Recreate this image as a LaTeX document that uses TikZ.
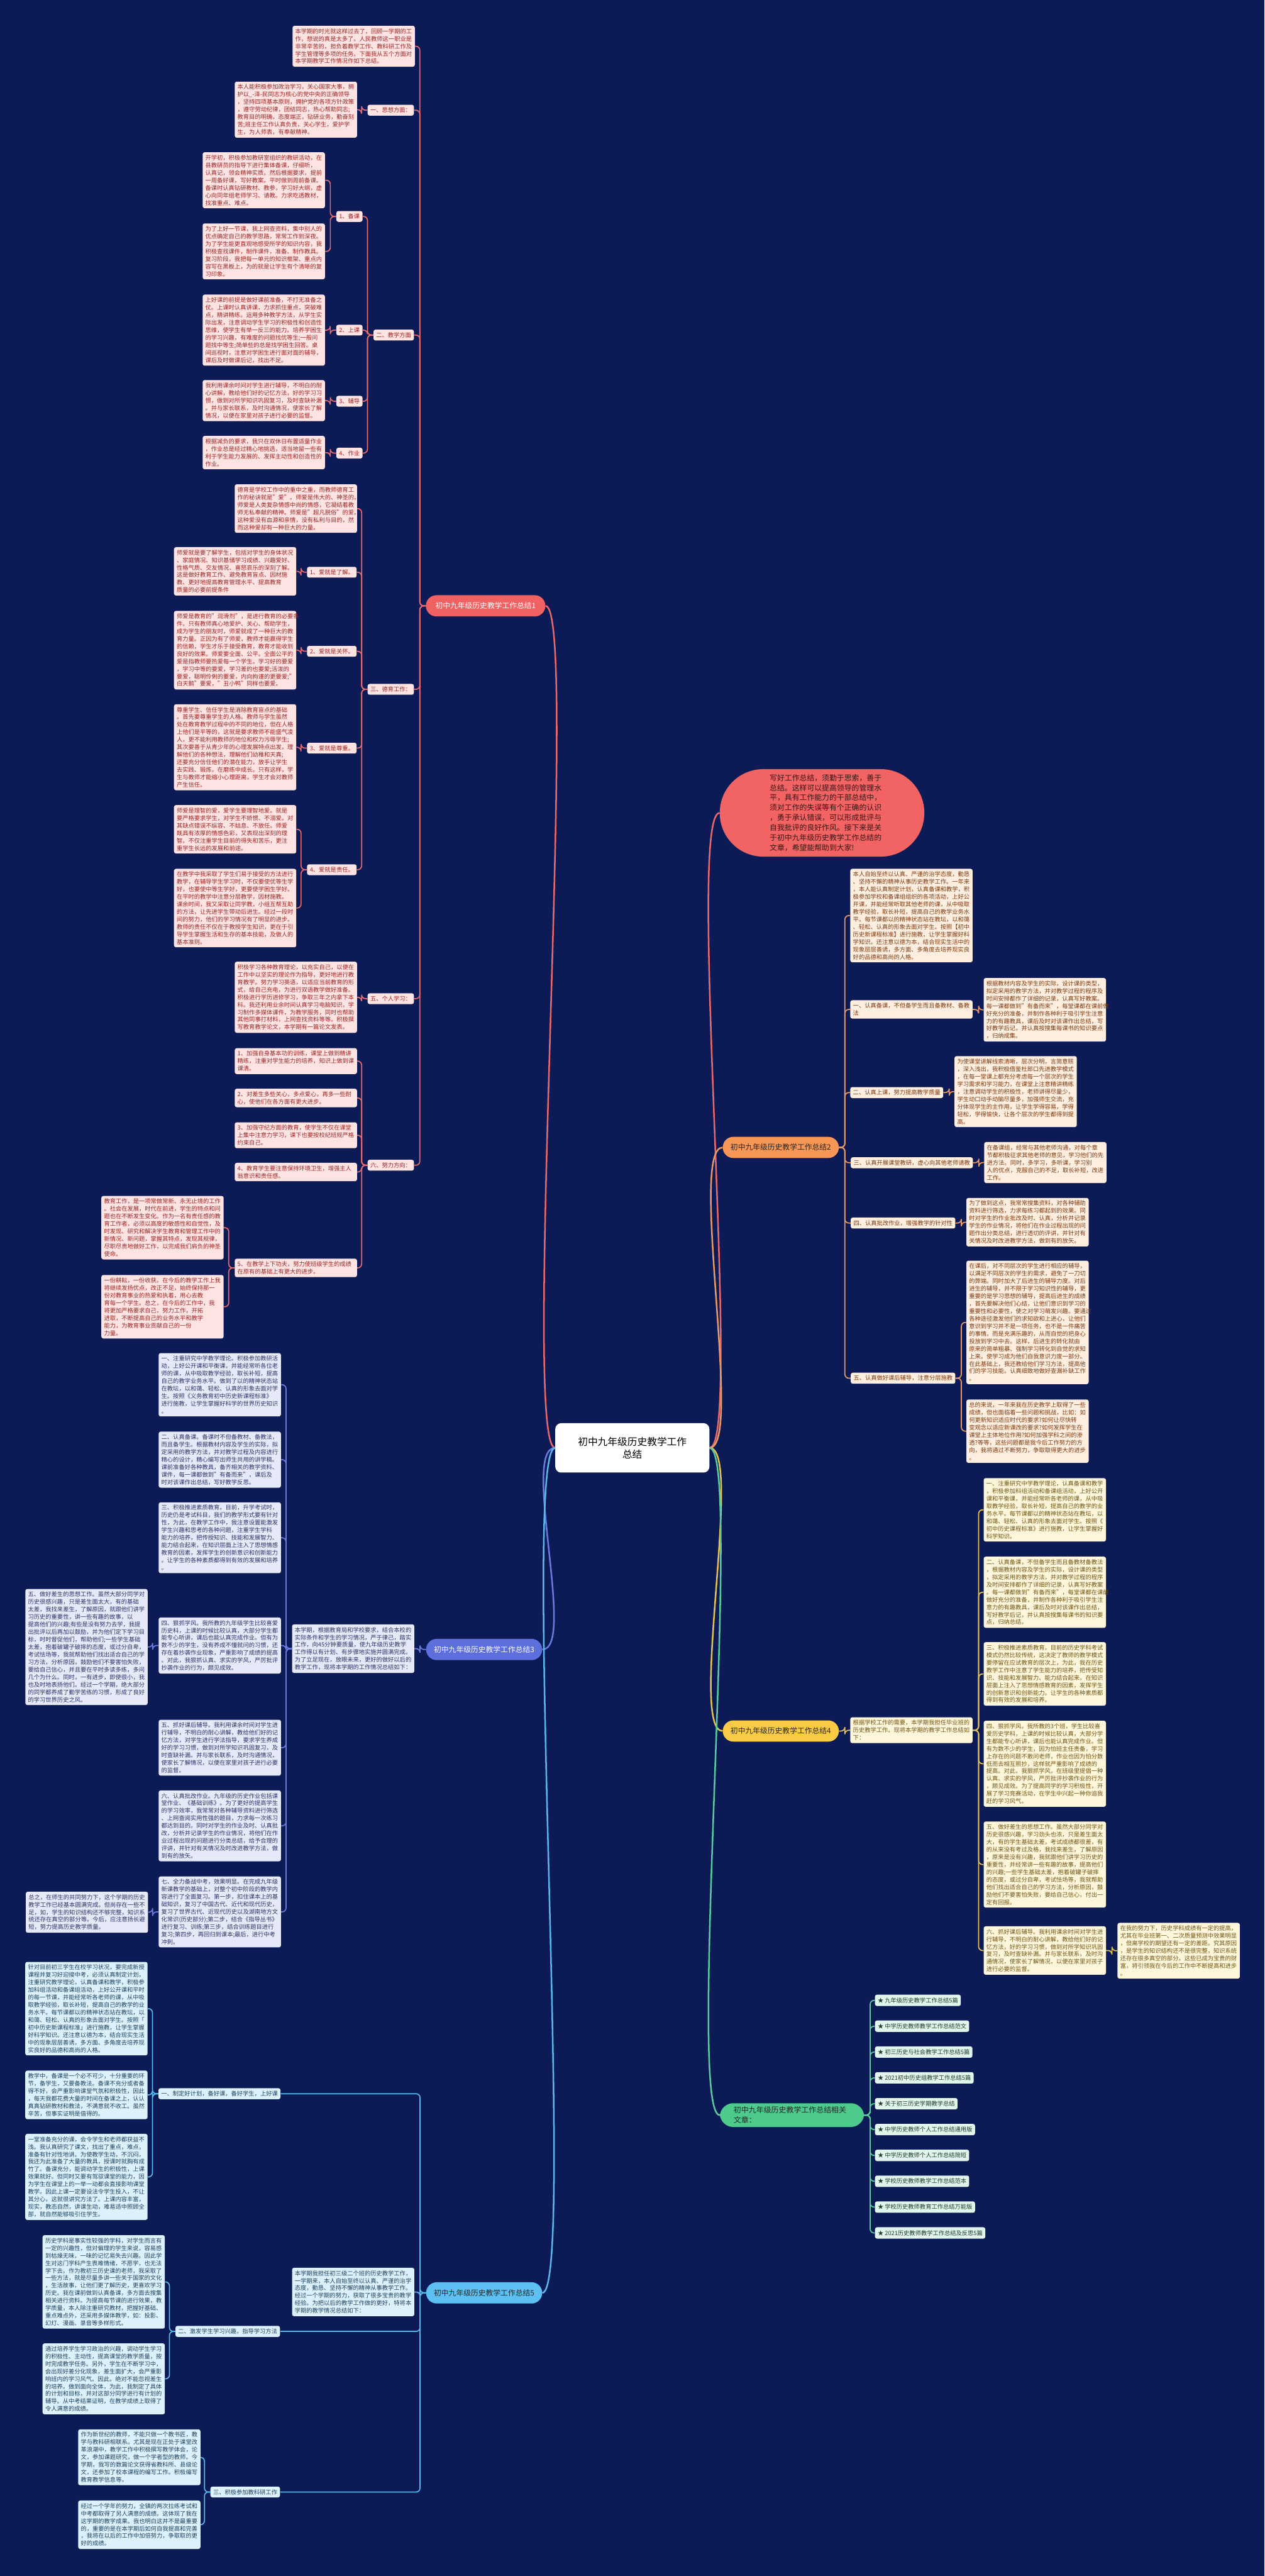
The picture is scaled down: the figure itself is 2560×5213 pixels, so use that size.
\documentclass[tikz,border=0pt]{standalone}
\usepackage{fontspec}
\setmainfont{Noto Sans CJK SC}
\definecolor{bg}{HTML}{0C1B55}
\definecolor{p1}{HTML}{F06262}\definecolor{l1}{HTML}{E8686C}\definecolor{f1}{HTML}{FDE4E2}\definecolor{t1}{HTML}{9A2626}
\definecolor{p2}{HTML}{F79655}\definecolor{l2}{HTML}{E79A66}\definecolor{f2}{HTML}{FEEEDF}\definecolor{t2}{HTML}{7B3A10}
\definecolor{p3}{HTML}{5C6FDC}\definecolor{l3}{HTML}{6A7BE0}\definecolor{f3}{HTML}{E6E9F8}\definecolor{t3}{HTML}{2E3466}
\definecolor{p4}{HTML}{F9CB45}\definecolor{l4}{HTML}{E3C252}\definecolor{f4}{HTML}{FEF6DA}\definecolor{t4}{HTML}{6E5514}
\definecolor{p5}{HTML}{4CCB8D}\definecolor{l5}{HTML}{5ACB9D}\definecolor{f5}{HTML}{E2F5EC}\definecolor{t5}{HTML}{1D3A2C}
\definecolor{p6}{HTML}{5CC1F2}\definecolor{l6}{HTML}{5AB7EA}\definecolor{f6}{HTML}{DDF1FC}\definecolor{t6}{HTML}{1E425C}
\definecolor{sumfill}{HTML}{F26464}\definecolor{sumtext}{HTML}{3A1515}
\newcommand\bx{\fontsize{11.8pt}{15.2pt}\selectfont}
\newcommand\pf{\fontsize{15pt}{20pt}\selectfont}
\newcommand\rf{\fontsize{20pt}{26pt}\selectfont}
\newcommand\cL[3]{\draw[#1] (#2.west) -- ++(-12,0) |- (#3.east);}
\newcommand\cR[3]{\draw[#1] (#2.east) -- ++(12,0) |- (#3.west);}
\tikzset{
  tbox/.style={rounded corners=4pt, inner xsep=5.5pt, inner ysep=5.5pt, align=left, font=\bx, text width=236.5pt, anchor=north west},
  lbl/.style={rounded corners=4pt, inner xsep=5.5pt, inner ysep=5.5pt, font=\bx},
  pill/.style={rounded corners=21.5pt, minimum height=43pt, inner xsep=14pt, font=\pf, align=center},
  c1/.style={fill=f1,text=t1}, c2/.style={fill=f2,text=t2}, c3/.style={fill=f3,text=t3},
  c4/.style={fill=f4,text=t4}, c5/.style={fill=f5,text=t5}, c6/.style={fill=f6,text=t6},
  k1/.style={draw=l1,line width=2.2pt,rounded corners=8pt}, k2/.style={draw=l2,line width=2.2pt,rounded corners=8pt},
  k3/.style={draw=l3,line width=2.2pt,rounded corners=8pt}, k4/.style={draw=l4,line width=2.2pt,rounded corners=8pt},
  k5/.style={draw=l5,line width=2.2pt,rounded corners=8pt}, k6/.style={draw=l6,line width=2.2pt,rounded corners=8pt},
  trunk/.style={line width=3.2pt},
}
\begin{document}
\begin{tikzpicture}[x=1pt,y=-1pt]
\fill[bg] (0,0) rectangle (2560,5213);
\path[use as bounding box] (0,0) rectangle (2560,5213);

% ---------- root ----------
\node[fill=white,text=black,rounded corners=12pt,minimum width=312pt,minimum height=100pt,font=\rf,align=center] (root) at (1280,2930) {初中九年级历史教学工作\\总结};

% ---------- summary ----------
\node[fill=sumfill,text=sumtext,rounded corners=88pt,minimum width=414pt,minimum height=177pt,text width=212pt,align=left,font=\fontsize{15.1pt}{20.3pt}\selectfont] (sum) at (1664,1645) {写好工作总结，须勤于思索，善于\\总结。这样可以提高领导的管理水\\平，具有工作能力的干部总结中，\\须对工作的失误等有个正确的认识\\，勇于承认错误，可以形成批评与\\自我批评的良好作风。接下来是关\\于初中九年级历史教学工作总结的\\文章，希望能帮助到大家!};

% ---------- branch 1 ----------
\node[pill,fill=p1,text=white,minimum width=242pt] (b1) at (983,1226) {初中九年级历史教学工作总结1};
\node[tbox,c1] (b1i) at (592,52) {本学期的时光就这样过去了，回顾一学期的工\\作，想说的真是太多了。人民教师这一职业是\\非常辛苦的，担负着教学工作、教科研工作及\\学生管理等多项的任务。下面我从五个方面对\\本学期教学工作情况作如下总结。};
\node[lbl,c1,anchor=east] (b1a) at (838,223) {一、思想方面：};
\node[tbox,c1] (b1a1) at (475,165) {本人能积极参加政治学习，关心国家大事，拥\\护以\_-泽-民同志为核心的党中央的正确领导\\，坚持四项基本原则，拥护党的各项方针政策\\，遵守劳动纪律，团结同志，热心帮助同志;\\教育目的明确，态度端正，钻研业务，勤奋刻\\苦;班主任工作认真负责，关心学生，爱护学\\生，为人师表，有奉献精神。};
\node[lbl,c1,anchor=east] (b1b) at (838,678) {二、教学方面};
\node[lbl,c1,anchor=east] (b1b1) at (734,438) {1、备课};
\node[tbox,c1] (b1b1a) at (410,308) {开学初，积极参加教研室组织的教研活动，在\\县教研员的指导下进行集体备课，仔细听，\\认真记，领会精神实质。然后根据要求，提前\\一周备好课，写好教案。平时做到周前备课。\\备课时认真钻研教材、教参，学习好大纲，虚\\心向同年组老师学习、请教。力求吃透教材，\\找准重点、难点。};
\node[tbox,c1] (b1b1b) at (410,452) {为了上好一节课，我上网查资料，集中别人的\\优点确定自己的教学思路，常常工作到深夜。\\为了学生能更直观地感受所学的知识内容，我\\积极查找课件，制作课件，准备、制作教具。\\复习阶段，我把每一单元的知识框架、重点内\\容写在黑板上，为的就是让学生有个清晰的复\\习印象。};
\node[lbl,c1,anchor=east] (b1b2) at (734,668) {2、上课};
\node[tbox,c1] (b1b2a) at (410,596) {上好课的前提是做好课前准备，不打无准备之\\仗。上课时认真讲课，力求抓住重点，突破难\\点，精讲精练。运用多种教学方法，从学生实\\际出发，注意调动学生学习的积极性和创造性\\思维，使学生有举一反三的能力。培养学困生\\的学习兴趣，有难度的问题找优等生;一般问\\题找中等生;简单些的总是找学困生回答。桌\\间巡视时，注意对学困生进行面对面的辅导，\\课后及时做课后记，找出不足。};
\node[lbl,c1,anchor=east] (b1b3) at (734,812) {3、辅导};
\node[tbox,c1] (b1b3a) at (410,769) {我利用课余时间对学生进行辅导，不明白的耐\\心讲解，教给他们好的记忆方法，好的学习习\\惯，做到对所学知识巩固复习，及时查缺补漏\\。并与家长联系，及时沟通情况，使家长了解\\情况，以便在家里对孩子进行必要的监督。};
\node[lbl,c1,anchor=east] (b1b4) at (734,917) {4、作业};
\node[tbox,c1] (b1b4a) at (410,882) {根据减负的要求，我只在双休日布置适量作业\\，作业总是经过精心地挑选，适当地留一些有\\利于学生能力发展的、发挥主动性和创造性的\\作业。};
\node[lbl,c1,anchor=east] (b1c) at (838,1395) {三、德育工作：};
\node[tbox,c1] (b1c0) at (475,980) {德育是学校工作中的重中之重，而教师德育工\\作的秘诀就是"爱"。师爱是伟大的、神圣的。\\师爱是人类复杂情感中尚的情感，它凝结着教\\师无私奉献的精神。师爱是"超凡脱俗"的爱。\\这种爱没有血源和亲情，没有私利与目的，然\\而这种爱却有一种巨大的力量。};
\node[lbl,c1,anchor=east] (b1c1) at (722,1158) {1、爱就是了解。};
\node[tbox,c1] (b1c1a) at (352,1107) {师爱就是要了解学生，包括对学生的身体状况\\、家庭情况、知识基储学习成绩、兴趣爱好、\\性格气质、交友情况、喜怒哀乐的深刻了解。\\这是做好教育工作、避免教育盲点、因材施\\教、更好地提高教育管理水平、提高教育\\质量的必要前提条件};
\node[lbl,c1,anchor=east] (b1c2) at (722,1318) {2、爱就是关怀。};
\node[tbox,c1] (b1c2a) at (352,1236) {师爱是教育的"润滑剂"，是进行教育的必要条\\件。只有教师真心地爱护、关心、帮助学生，\\成为学生的朋友时，师爱就成了一种巨大的教\\育力量。正因为有了师爱，教师才能赢得学生\\的信赖，学生才乐于接受教育，教育才能收到\\良好的效果。师爱要全面、公平。全面公平的\\爱是指教师要热爱每一个学生。学习好的要爱\\，学习中等的要爱，学习差的也要爱;活泼的\\要爱，聪明伶俐的要爱，内向拘谨的更要爱;"\\白天鹅"要爱，"丑小鸭"同样也要爱。};
\node[lbl,c1,anchor=east] (b1c3) at (722,1514) {3、爱就是尊重。};
\node[tbox,c1] (b1c3a) at (352,1425) {尊重学生、信任学生是消除教育盲点的基础\\。首先要尊重学生的人格。教师与学生虽然\\处在教育教学过程中的不同的地位，但在人格\\上他们是平等的，这就是要求教师不能盛气凌\\人，更不能利用教师的地位和权力污辱学生;\\其次要善于从青少年的心理发展特点出发，理\\解他们的各种想法，理解他们幼稚和天真;\\还要充分信任他们的潜在能力，放手让学生\\去实践、锻炼，在磨练中成长。只有这样，学\\生与教师才能缩小心理距离，学生才会对教师\\产生信任。};
\node[lbl,c1,anchor=east] (b1c4) at (722,1760) {4、爱就是责任。};
\node[tbox,c1] (b1c4a) at (352,1629) {师爱是理智的爱，爱学生要理智地爱。就是\\要严格要求学生，对学生不娇惯、不溺爱。对\\其缺点错误不纵容、不姑息、不放任。师爱\\既具有浓厚的情感色彩，又表现出深刻的理\\智。不仅注重学生目前的得失和苦乐，更注\\重学生长远的发展和前途。};
\node[tbox,c1] (b1c4b) at (352,1758) {在教学中我采取了学生们易于接受的方法进行\\教学，在辅导学生学习时，不仅要使优等生学\\好，也要使中等生学好，更要使学困生学好。\\在平时的教学中注意分层教学，因材施教。\\课余时间，我又采取让同学教，小组互帮互助\\的方法，让先进学生带动后进生。经过一段时\\间的努力，他们的学习情况有了明显的进步。\\教师的责任不仅在于教授学生知识，更在于引\\导学生掌握生活和生存的基本技能，及做人的\\基本准则。};
\node[lbl,c1,anchor=east] (b1e) at (838,2021) {五、个人学习：};
\node[tbox,c1] (b1e1) at (475,1946) {积极学习各种教育理论，以充实自己，以便在\\工作中以坚实的理论作为指导，更好地进行教\\育教学。努力学习英语，以适应当前教育的形\\式，给自己充电，为进行双语教学做好准备。\\积极进行学历进修学习，争取三年之内拿下本\\科。我还利用业余时间认真学习电脑知识，学\\习制作多媒体课件，为教学服务，同时也帮助\\其他同事打材料，上网查找资料等等。积极撰\\写教育教学论文，本学期有一篇论文发表。};
\node[lbl,c1,anchor=east] (b1f) at (838,2358) {六、努力方向：};
\node[tbox,c1] (b1f1) at (475,2121) {1、加强自身基本功的训练，课堂上做到精讲\\精练，注重对学生能力的培养，知识上做到课\\课清。};
\node[tbox,c1] (b1f2) at (475,2203) {2、对差生多些关心，多点爱心，再多一些耐\\心，使他们在各方面有更大进步。};
\node[tbox,c1] (b1f3) at (475,2271) {3、加强守纪方面的教育，使学生不仅在课堂\\上集中注意力学习，课下也要按校纪班规严格\\约束自己。};
\node[tbox,c1] (b1f4) at (475,2353) {4、教育学生要注意保持环境卫生，增强主人\\翁意识和责任感。};
\node[tbox,c1] (b1f5) at (475,2547) {5、在教学上下功夫，努力使班级学生的成绩\\在原有的基础上有更大的进步。};
\node[tbox,c1] (b1f5a) at (205,2420) {教育工作，是一项常做常新、永无止境的工作\\。社会在发展，时代在前进，学生的特点和问\\题也在不断发生变化。作为一名有责任感的教\\育工作者，必须以高度的敏感性和自觉性，及\\时发现、研究和解决学生教育和管理工作中的\\新情况、新问题，掌握其特点，发现其规律，\\尽职尽责地做好工作，以完成我们肩负的神圣\\使命。};
\node[tbox,c1] (b1f5b) at (205,2580) {一份耕耘，一份收获。在今后的教学工作上我\\将继续发扬优点，改正不足，始终保持那一\\份对教育事业的热爱和执着，用心去教\\育每一个学生。总之，在今后的工作中，我\\将更加严格要求自己，努力工作，开拓\\进取，不断提高自己的业务水平和教学\\能力，为教育事业贡献自己的一份\\力量。};

\cL{k1}{b1}{b1i}\cL{k1}{b1}{b1a}\cL{k1}{b1}{b1b}\cL{k1}{b1}{b1c}\cL{k1}{b1}{b1e}\cL{k1}{b1}{b1f}
\cL{k1}{b1a}{b1a1}
\cL{k1}{b1b}{b1b1}\cL{k1}{b1b}{b1b2}\cL{k1}{b1b}{b1b3}\cL{k1}{b1b}{b1b4}
\cL{k1}{b1b1}{b1b1a}\cL{k1}{b1b1}{b1b1b}\cL{k1}{b1b2}{b1b2a}\cL{k1}{b1b3}{b1b3a}\cL{k1}{b1b4}{b1b4a}
\cL{k1}{b1c}{b1c0}\cL{k1}{b1c}{b1c1}\cL{k1}{b1c}{b1c2}\cL{k1}{b1c}{b1c3}\cL{k1}{b1c}{b1c4}
\cL{k1}{b1c1}{b1c1a}\cL{k1}{b1c2}{b1c2a}\cL{k1}{b1c3}{b1c3a}\cL{k1}{b1c4}{b1c4a}\cL{k1}{b1c4}{b1c4b}
\cL{k1}{b1e}{b1e1}
\cL{k1}{b1f}{b1f1}\cL{k1}{b1f}{b1f2}\cL{k1}{b1f}{b1f3}\cL{k1}{b1f}{b1f4}\cL{k1}{b1f}{b1f5}
\cL{k1}{b1f5}{b1f5a}\cL{k1}{b1f5}{b1f5b}

% ---------- branch 2 ----------
\node[pill,fill=p2,text=black!85,minimum width=235pt] (b2) at (1580.5,2322) {初中九年级历史教学工作总结2};
\node[tbox,c2] (b2i) at (1721,1758) {本人自始至终以认真、严谨的治学态度，勤恳\\、坚持不懈的精神从事历史教学工作。一年来\\，本人能认真制定计划，认真备课和教学，积\\极参加学校和备课组组织的各项活动，上好公\\开课，并能经常听取其他老师的课，从中吸取\\教学经验，取长补短，提高自己的教学业务水\\平。每节课都以的精神状态站在教坛，以和蔼\\、轻松、认真的形象去面对学生。按照【初中\\历史新课程标准】进行施教，让学生掌握好科\\学知识。还注意以德为本，结合现实生活中的\\现象层层善诱，多方面、多角度去培养现实良\\好的品德和高尚的人格。};
\node[tbox,c2] (b2a) at (1721,2024) {一、认真备课，不但备学生而且备教材、备教\\法};
\node[tbox,c2] (b2a1) at (1991,1979) {根据教材内容及学生的实际，设计课的类型，\\拟定采用的教学方法，并对教学过程的程序及\\时间安排都作了详细的记录，认真写好教案。\\每一课都做到"有备而来"，每堂课都在课前做\\好充分的准备，并制作各种利于吸引学生注意\\力的有趣教具，课后及时对该课作出总结，写\\好教学后记，并认真按搜集每课书的知识要点\\，归纳成集。};
\node[lbl,c2,anchor=west] (b2b) at (1721,2211) {二、认真上课，努力提高教学质量};
\node[tbox,c2] (b2b1) at (1932,2137) {为使课堂讲解线索清晰，层次分明，言简意赅\\，深入浅出，我积极借鉴杜郎口先进教学模式\\，在每一堂课上都充分考虑每一个层次的学生\\学习需求和学习能力，在课堂上注意精讲精练\\，注意调动学生的积极性，老师讲得尽量少，\\学生动口动手动脑尽量多，加强师生交流，充\\分体现学生的主作用，让学生学得容易，学得\\轻松，学得愉快，让各个层次的学生都得到提\\高。};
\node[lbl,c2,anchor=west] (b2c) at (1722,2353) {三、认真开展课堂教研，虚心向其他老师请教};
\node[tbox,c2] (b2c1) at (1992,2311) {在备课组，经常与其他老师沟通，对每个章\\节都积极征求其他老师的意见，学习他们的先\\进方法。同时，多学习，多听课，学习别\\人的优点，克服自己的不足，取长补短，改进\\工作。};
\node[lbl,c2,anchor=west] (b2d) at (1722,2475) {四、认真批改作业，增强教学的针对性};
\node[tbox,c2] (b2d1) at (1956,2424) {为了做到这点，我常常搜集资料，对各种辅助\\资料进行筛选，力求每练习都起到的效果。同\\时对学生的作业批改及时、认真，分析并记录\\学生的作业情况，将他们在作业过程出现的问\\题作出分类总结，进行透切的评讲，并针对有\\关情况及时改进教学方法，做到有的放矢。};
\node[lbl,c2,anchor=west] (b2e) at (1722,2789) {五、认真做好课后辅导，注意分层施教};
\node[tbox,c2] (b2e1) at (1956,2551) {在课后，对不同层次的学生进行相应的辅导，\\以满足不同层次的学生的需求，避免了一刀切\\的弊端。同时加大了后进生的辅导力度。对后\\进生的辅导，并不限于学习知识性的辅导，更\\重要的是学习思想的辅导，提高后进生的成绩\\，首先要解决他们心结，让他们意识到学习的\\重要性和必要性，使之对学习萌发兴趣。要通过\\各种途径激发他们的求知欲和上进心，让他们\\意识到学习并不是一项任务，也不是一件痛苦\\的事情。而是充满乐趣的，从而自觉的把身心\\投放到学习中去。这样，后进生的转化就由\\原来的简单粗暴、强制学习转化到自觉的求知\\上来。使学习成为他们自我意识力度一部分。\\在此基础上，我还教给他们学习方法，提高他\\们的学习技能。认真细致地做好查漏补缺工作\\。};
\node[tbox,c2] (b2e2) at (1956,2832) {总的来说，一年来我在历史教学上取得了一些\\成绩，但也面临着一些问题和挑战，比如：如\\何更新知识适应时代的要求?如何让尽快转\\变观念以适应新课改的要求?如何发挥学生在\\课堂上主体地位作用?如何加强学科之间的渗\\透?等等，这些问题都是我今后工作努力的方\\向，我将通过不断努力，争取取得更大的进步\\。};
\cR{k2}{b2}{b2i}\cR{k2}{b2}{b2a}\cR{k2}{b2}{b2b}\cR{k2}{b2}{b2c}\cR{k2}{b2}{b2d}\cR{k2}{b2}{b2e}
\cR{k2}{b2a}{b2a1}\cR{k2}{b2b}{b2b1}\cR{k2}{b2c}{b2c1}\cR{k2}{b2d}{b2d1}\cR{k2}{b2e}{b2e1}\cR{k2}{b2e}{b2e2}

% ---------- branch 3 ----------
\node[pill,fill=p3,text=white,minimum width=235pt] (b3) at (980,3338) {初中九年级历史教学工作总结3};
\node[tbox,c3] (b3i) at (591,3287) {本学期，根据教育局和学校要求，结合本校的\\实际条件和学生的学习情况，严于律己，踏实\\工作，向45分钟要质量，使九年级历史教学\\工作得以有计划、有步骤地实施并圆满完成。\\为了立足现在，放眼未来，更好的做好以后的\\教学工作，现将本学期的工作情况总结如下：};
\node[tbox,c3] (b3a) at (321,2738) {一、注重研究中学教学理论。积极参加教研活\\动，上好公开课和平衡课，并能经常听各位老\\师的课，从中吸取教学经验，取长补短，提高\\自己的教学业务水平。做到了以的精神状态站\\在教坛，以和蔼、轻松、认真的形象去面对学\\生。按照《义务教育初中历史新课程标准》\\进行施教，让学生掌握好科学的世界历史知识\\。};
\node[tbox,c3] (b3b) at (321,2897) {二、认真备课。备课时不但备教材、备教法，\\而且备学生。根据教材内容及学生的实际，拟\\定采用的教学方法，并对教学过程及内容进行\\精心的设计，精心编写出师生共用的讲学稿。\\课前准备好各种教具，备齐相关的教学资料、\\课件，每一课都做到"有备而来"，课后及\\时对该课作出总结，写好教学反思。};
\node[tbox,c3] (b3c) at (321,3040) {三、积极推进素质教育。目前，升学考试时，\\历史仍是考试科目，我们的教学形式要有针对\\性，为此，在教学工作中，我注意设置能激发\\学生兴趣和思考的各种问题，注重学生学科\\能力的培养，把传授知识、技能和发展智力、\\能力结合起来，在知识层面上注入了思想情感\\教育的因素，发挥学生的创新意识和创新能力\\。让学生的各种素质都得到有效的发展和培养\\。};
\node[tbox,c3] (b3d) at (321,3273) {四、狠抓学风。我所教的九年级学生比较喜爱\\历史科，上课的时候比较认真，大部分学生都\\能专心听讲，课后也能认真完成作业。但有为\\数不少的学生，没有养成不懂就问的习惯，还\\存在着抄袭作业现象，严重影响了成绩的提高\\。对此，我狠抓认真、求实的学风，严厉批评\\抄袭作业的行为，颇见成效。};
\node[tbox,c3,anchor=east] (b3d0) at (299,3333) {五、做好差生的思想工作。虽然大部分同学对\\历史很感兴趣，只是差生面太大，有的基础\\太差，我找来差生，了解原因，就跟他们讲学\\习历史的重要性，讲一些有趣的故事，以\\提高他们的兴趣;有些是没有努力去学，我提\\出批评以后再加以鼓励，并为他们定下学习目\\标，时时督促他们，帮助他们;一些学生基础\\太差，抱着破罐子破摔的态度，或过分自卑，\\考试怯场等，我就帮助他们找出适合自己的学\\习方法，分析原因，鼓励他们不要害怕失败，\\要给自己信心，并且要在平时多读多练，多问\\几个为什么。同时，一有进步，即使很小，我\\也及时地表扬他们。经过一个学期，绝大部分\\的同学都养成了勤学苦练的习惯，形成了良好\\的学习世界历史之风。};
\node[tbox,c3] (b3e) at (321,3480) {五、抓好课后辅导。我利用课余时间对学生进\\行辅导，不明白的耐心讲解，教给他们好的记\\忆方法，对学生进行学法指导，要求学生养成\\好的学习习惯，做到对所学知识巩固复习，及\\时查缺补漏。并与家长联系，及时沟通情况，\\使家长了解情况，以便在家里对孩子进行必要\\的监督。};
\node[tbox,c3] (b3f) at (321,3623) {六、认真批改作业。九年级的历史作业包括课\\堂作业、《基础训练》。为了更好的提高学生\\的学习效率，我常常对各种辅导资料进行筛选\\、上网查阅实用性强的题目，力求每一次练习\\都达到目的。同时对学生的作业及时、认真批\\改，分析并记录学生的作业情况，将他们在作\\业过程出现的问题进行分类总结，给予合理的\\评讲，并针对有关情况及时改进教学方法，做\\到有的放矢。};
\node[tbox,c3] (b3g) at (321,3797) {七、全力备战中考，效果明显。在完成九年级\\新课教学的基础上，对整个初中阶段的教学内\\容进行了全面复习。第一步，扣住课本上的基\\础知识，复习了中国古代、近代和现代历史，\\复习了世界古代、近现代历史以及湖南地方文\\化常识(历史部分);第二步，结合《指导丛书》\\进行复习、训练;第三步，结合训练题目进行\\复习;第四步，再回归到课本;最后，进行中考\\冲刺。};
\node[tbox,c3] (b3g0) at (52,3828) {总之，在师生的共同努力下，这个学期的历史\\教学工作已经基本圆满完成。但尚存在一些不\\足，如，学生的知识结构还不够完整，知识系\\统还存在真空的部分等。今后，应注意扬长避\\短，努力提高历史教学质量。};
\cL{k3}{b3}{b3i}
\cL{k3}{b3i}{b3a}\cL{k3}{b3i}{b3b}\cL{k3}{b3i}{b3c}\cL{k3}{b3i}{b3d}\cL{k3}{b3i}{b3e}\cL{k3}{b3i}{b3f}\cL{k3}{b3i}{b3g}
\cL{k3}{b3d}{b3d0}\cL{k3}{b3g}{b3g0}

% ---------- branch 4 ----------
\node[pill,fill=p4,text=black!85,minimum width=235pt] (b4) at (1580.5,3503) {初中九年级历史教学工作总结4};
\node[tbox,c4] (b4i) at (1721,3475) {根据学校工作的需要，本学期我担任毕业班的\\历史教学工作。现将本学期的教学工作总结如\\下：};
\node[tbox,c4] (b4a) at (1991,2991) {一、注重研究中学教学理论，认真备课和教学\\，积极参加科组活动和备课组活动，上好公开\\课和平衡课，并能经常听各老师的课，从中吸\\取教学经验，取长补短，提高自己的教学的业\\务水平。每节课都以的精神状态站在教坛，以\\和蔼、轻松、认真的形象去面对学生。按照《\\初中历史课程标准》进行施教，让学生掌握好\\科学知识。};
\node[tbox,c4] (b4b) at (1991,3150) {二、认真备课，不但备学生而且备教材备教法\\，根据教材内容及学生的实际，设计课的类型\\，拟定采用的教学方法，并对教学过程的程序\\及时间安排都作了详细的记录，认真写好教案\\。每一课都做到"有备而来"，每堂课都在课前\\做好充分的准备，并制作各种利于吸引学生注\\意力的有趣教具，课后及时对该课作出总结，\\写好教学后记，并认真按搜集每课书的知识要\\点，归纳总结。};
\node[tbox,c4] (b4c) at (1991,3323) {三、积极推进素质教育。目前的历史学科考试\\模式仍然比较传统，这决定了教师的教学模式\\要停留在应试教育的层次上，为此，我在历史\\教学工作中注意了学生能力的培养，把传受知\\识、技能和发展智力、能力结合起来，在知识\\层面上注入了思想情感教育的因素，发挥学生\\的创新意识和创新能力。让学生的各种素质都\\得到有效的发展和培养。};
\node[tbox,c4] (b4d) at (1991,3482) {四、狠抓学风。我所教的3个班，学生比较喜\\爱历史学科，上课的时候比较认真，大部分学\\生都能专心听讲，课后也能认真完成作业。但\\有为数不少的学生，因为怕班主任责备，学习\\上存在的问题不敢问老师，作业也因为怕分数\\低而去相互照抄，这样就严重影响了成绩的\\提高。对此，我狠抓学风，在班级里提倡一种\\认真、求实的学风，严厉批评抄袭作业的行为\\，颇见成效。为了提高同学的学习积极性，开\\展了学习竞赛活动，在学生中兴起一种你追我\\赶的学习风气。};
\node[tbox,c4] (b4e) at (1991,3686) {五、做好差生的思想工作。虽然大部分同学对\\历史很感兴趣，学习劲头也浓，只是差生面太\\大，有的学生基础太差，考试成绩都很差，有\\的从来没有考过及格，我找来差生，了解原因\\，原来是没有兴趣，我就跟他们讲学习历史的\\重要性，并经常讲一些有趣的故事，提高他们\\的兴趣;一些学生基础太差，抱着破罐子破摔\\的态度，或过分自卑，考试怯场等，我就帮助\\他们找出适合自己的学习方法，分析原因，鼓\\励他们不要害怕失败，要给自己信心，付出一\\定有回报。};
\node[tbox,c4] (b4f) at (1991,3898) {六、抓好课后辅导。我利用课余时间对学生进\\行辅导，不明白的耐心讲解，教给他们好的记\\忆方法，好的学习习惯，做到对所学知识巩固\\复习，及时查缺补漏。并与家长联系，及时沟\\通情况，使家长了解情况，以便在家里对孩子\\进行必要的监督。};
\node[tbox,c4] (b4f0) at (2262,3891) {在我的努力下，历史学科成绩有一定的提高，\\尤其在毕业班第一、二次质量预测中效果明显\\，但离学校的期望还有一定的差距。究其原因\\，是学生的知识结构还不是很完整，知识系统\\还存在很多真空的部分。这些已成为宝贵的财\\富，将引领我在今后的工作中不断提高和进步\\。};
\cR{k4}{b4}{b4i}
\cR{k4}{b4i}{b4a}\cR{k4}{b4i}{b4b}\cR{k4}{b4i}{b4c}\cR{k4}{b4i}{b4d}\cR{k4}{b4i}{b4e}\cR{k4}{b4i}{b4f}
\cR{k4}{b4f}{b4f0}

% ---------- branch 5 ----------
\node[fill=p5,text=black!85,rounded corners=27pt,inner xsep=28pt,inner ysep=7pt,text width=236pt,align=left,font=\fontsize{15.2pt}{20pt}\selectfont,anchor=north west] (b5) at (1457,4256) {初中九年级历史教学工作总结相关\\文章：};
\foreach \n/\t [count=\i from 0] in {a/九年级历史教学工作总结5篇,b/中学历史教师教学工作总结范文,c/初三历史与社会教学工作总结5篇,d/2021初中历史组教学工作总结5篇,e/关于初三历史学期教学总结,f/中学历史教师个人工作总结通用版,g/中学历史教师个人工作总结简短,h/学校历史教师教学工作总结范本,i/学校历史教师教育工作总结万能版,j/2021历史教师教学工作总结及反思5篇}{
  \node[lbl,c5,anchor=west,inner ysep=6pt] (b5\n) at (1771,4048+52.3*\i) {★ \t};
  \cR{k5}{b5}{b5\n}
}

% ---------- branch 6 ----------
\node[pill,fill=p6,text=black!85,minimum width=235pt] (b6) at (980,4640) {初中九年级历史教学工作总结5};
\node[tbox,c6] (b6i) at (591,4589) {本学期我担任初三级二个班的历史教学工作，\\一学期来，本人自始至终以认真、严谨的治学\\态度，勤恳、坚持不懈的精神从事教学工作。\\经过一个学期的努力，获取了很多宝贵的教学\\经验。为把以后的教学工作做的更好，特将本\\学期的教学情况总结如下：};
\node[lbl,c6,anchor=east] (b6a) at (568,4237) {一、制定好计划，备好课，备好学生，上好课};
\node[tbox,c6] (b6a1) at (51,3970) {针对目前初三学生在校学习状况，要完成新授\\课程并复习好迎接中考，必须认真制定计划，\\注重研究教学理论，认真备课和教学，积极参\\加科组活动和备课组活动，上好公开课和平时\\的每一节课，并能经常听各老师的课，从中吸\\取教学经验，取长补短，提高自己的教学的业\\务水平。每节课都以的精神状态站在教坛，以\\和蔼、轻松、认真的形象去面对学生。按照「\\初中历史新课程标准」进行施教，让学生掌握\\好科学知识。还注意以德为本，结合现实生活\\中的现象层层善诱，多方面、多角度去培养现\\实良好的品德和高尚的人格。};
\node[tbox,c6] (b6a2) at (51,4190) {教学中，备课是一个必不可少，十分重要的环\\节，备学生，又要备教法。备课不充分或者备\\得不好，会严重影响课堂气氛和积极性，因此\\，每天我都花费大量的时间在备课之上，认认\\真真钻研教材和教法，不满意就不收工。虽然\\辛苦，但事实证明是值得的。};
\node[tbox,c6] (b6a3) at (51,4318) {一堂准备充分的课，会令学生和老师都获益不\\浅。我认真研究了课文，找出了重点，难点，\\准备有针对性地讲。为使教学生动，不沉闷，\\我还为此准备了大量的教具，授课时就胸有成\\竹了。备课充分，能调动学生的积极性，上课\\效果就好。但同时又要有驾驭课堂的能力，因\\为学生在课堂上的一举一动都会直接影响课堂\\教学。因此上课一定要设法令学生投入，不让\\其分心，这就很讲究方法了。上课内容丰富，\\现实，教态自然，讲课生动，难易适中照顾全\\部，就自然能够吸引住学生。};
\node[lbl,c6,anchor=east] (b6b) at (567,4718) {二、激发学生学习兴趣，指导学习方法};
\node[tbox,c6] (b6b1) at (86,4523) {历史学科是事实性较强的学科，对学生而言有\\一定的兴趣性，但对偏理的学生来说，容易感\\到枯燥无味，一味的记忆易失去兴趣。因此学\\生对这门学科产生畏难情绪，不愿学，也无法\\学下去。作为教初三历史课的老师，我采取了\\一些方法，就是尽量多讲一些关于国家的文化\\，生活故事，让他们更了解历史，更喜欢学习\\历史。我在课前做到认真备课，多方面去搜集\\相关进行资料。为提高每节课的进行效果，教\\学质量，本人除注重研究教材，把握好基础、\\重点难点外，还采用多媒体教学，如：投影、\\幻灯、漫画、录音等多样形式。};
\node[tbox,c6] (b6b2) at (86,4742) {通过培养学生学习政治的兴趣，调动学生学习\\的积极性、主动性，提高课堂的教学质量，按\\时完成教学任务。另外，学生在不断学习中，\\会出现好差分化现象，差生面扩大，会严重影\\响班内的学习风气。因此，绝对不能忽视差生\\的培养。做到面向全体，为此，我制定了具体\\的计划和目标，并对这部分同学进行有计划的\\辅导。从中考结果证明，在教学成绩上取得了\\令人满意的成绩。};
\node[lbl,c6,anchor=east] (b6c) at (567,5043) {三、积极参加教科研工作};
\node[tbox,c6] (b6c1) at (158,4916) {作为新世纪的教师，不能只做一个教书匠，教\\学与教科研相联系。尤其是现在正处于课堂改\\革浪潮中，教学工作中积极撰写教学体会，论\\文，参加课题研究，做一个学者型的教师。今\\学期，我写的数篇论文获得省教科所、县级论\\文，还参加了校本课程的编写工作。积极编写\\教育教学信息等。};
\node[tbox,c6] (b6c2) at (158,5060) {经过一个学年的努力，全镇的两次拉练考试和\\中考都取得了另人满意的成绩。这体现了我在\\这学期的教学成果。我也明白这并不是最重要\\的，重要的是在本学期后如何自我提高和完善\\，我将在以后的工作中加倍努力，争取取的更\\好的成绩。};
\cL{k6}{b6}{b6i}\cL{k6}{b6}{b6a}\cL{k6}{b6}{b6b}\cL{k6}{b6}{b6c}
\cL{k6}{b6a}{b6a1}\cL{k6}{b6a}{b6a2}\cL{k6}{b6a}{b6a3}
\cL{k6}{b6b}{b6b1}\cL{k6}{b6b}{b6b2}
\cL{k6}{b6c}{b6c1}\cL{k6}{b6c}{b6c2}

% ---------- root connectors ----------
\draw[k1,trunk] (root.west) .. controls +(-70,0) and +(70,0) .. (b1.east);
\draw[k3,trunk] (root.west) .. controls +(-70,0) and +(70,0) .. (b3.east);
\draw[k6,trunk] (root.west) .. controls +(-70,0) and +(70,0) .. (b6.east);
\draw[k1,trunk] (root.east) .. controls +(70,0) and +(-70,0) .. (sum.west);
\draw[k2,trunk] (root.east) .. controls +(70,0) and +(-70,0) .. (b2.west);
\draw[k4,trunk] (root.east) .. controls +(70,0) and +(-70,0) .. (b4.west);
\draw[k5,trunk] (root.east) .. controls +(70,0) and +(-70,0) .. (b5.west);
\end{tikzpicture}
\end{document}
